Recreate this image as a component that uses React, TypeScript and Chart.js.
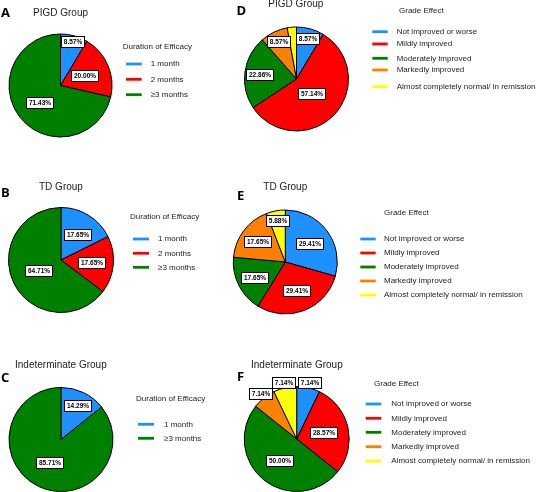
import React, { useEffect, useRef } from "react";
import { Chart, registerables } from "chart.js";

Chart.register(...registerables);

// ---------- categories ----------
const DURATION_CATS_3 = ["1 month", "2 months", "≥3 months"];
const DURATION_CATS_2 = ["1 month", "≥3 months"];
const GRADE_CATS = [
  "Not improved or worse",
  "Mildly improved",
  "Moderately improved",
  "Markedly improved",
  "Almost completely normal/ in remission",
];

// ---------- series values (%) ----------
const PIGD_DURATION = [8.57, 20.0, 71.43];
const TD_DURATION = [17.65, 17.65, 64.71];
const INDET_DURATION = [14.29, 85.71];
const PIGD_GRADE = [8.57, 57.14, 22.86, 8.57, 2.86];
const TD_GRADE = [29.41, 29.41, 17.65, 17.65, 5.88];
const INDET_GRADE = [7.14, 28.57, 50.0, 7.14, 7.14];

// ---------- colours ----------
const BLUE = "#1E90FF";
const RED = "#FF0000";
const GREEN = "#008000";
const ORANGE = "#FF8000";
const YELLOW = "#FFFF00";

const FONT = "'Liberation Sans', Arial, Helvetica, sans-serif";

type Panel = {
  key: string;
  region: { x: number; y: number; w: number; h: number };
  pie: { cx: number; cy: number; r: number };
  letter: { x: number; y: number };
  title: { text: string; x: number; y: number };
  legend: { title: string; tx: number; ty: number; sx: number; sw: number; textX: number; ys: number[] };
  cats: string[];
  values: number[];
  colors: string[];
  radius: { small: number; mid: number; large: number };
};

const PANELS: Panel[] = [
  {
    key: "A",
    region: { x: 0, y: 0, w: 230, h: 160 },
    pie: { cx: 60.5, cy: 85.5, r: 51.5 },
    letter: { x: 1, y: 13 },
    title: { text: "PIGD Group", x: 33, y: 13.3 },
    legend: { title: "Duration of Efficacy", tx: 122.7, ty: 46.7, sx: 126, sw: 15.7, textX: 150.7, ys: [64, 79.3, 94.7] },
    cats: DURATION_CATS_3,
    values: PIGD_DURATION,
    colors: [BLUE, RED, GREEN],
    radius: { small: 0.88, mid: 0.5, large: 0.52 },
  },
  {
    key: "B",
    region: { x: 0, y: 160, w: 230, h: 170 },
    pie: { cx: 61, cy: 260, r: 52.5 },
    letter: { x: 1, y: 193 },
    title: { text: "TD Group", x: 39, y: 187 },
    legend: { title: "Duration of Efficacy", tx: 130, ty: 216.7, sx: 133, sw: 16, textX: 158, ys: [239, 253.3, 267.3] },
    cats: DURATION_CATS_3,
    values: TD_DURATION,
    colors: [BLUE, RED, GREEN],
    radius: { small: 0.8, mid: 0.58, large: 0.47 },
  },
  {
    key: "C",
    region: { x: 0, y: 330, w: 230, h: 162 },
    pie: { cx: 61, cy: 439.5, r: 52 },
    letter: { x: 1, y: 378.5 },
    title: { text: "Indeterminate Group", x: 15, y: 365 },
    legend: { title: "Duration of Efficacy", tx: 136, ty: 398.3, sx: 138, sw: 16, textX: 164, ys: [424.3, 438.3] },
    cats: DURATION_CATS_2,
    values: INDET_DURATION,
    colors: [BLUE, GREEN],
    radius: { small: 0.72, mid: 0.72, large: 0.5 },
  },
  {
    key: "D",
    region: { x: 230, y: 0, w: 306, h: 160 },
    pie: { cx: 296.5, cy: 79, r: 52 },
    letter: { x: 236.5, y: 11 },
    title: { text: "PIGD Group", x: 268.3, y: 4.5 },
    legend: { title: "Grade Effect", tx: 399, ty: 11, sx: 372.3, sw: 15.4, textX: 396.7, ys: [31.7, 44, 58.3, 70, 86.7] },
    cats: GRADE_CATS,
    values: PIGD_GRADE,
    colors: [BLUE, RED, GREEN, ORANGE, YELLOW],
    radius: { small: 0.8, mid: 0.71, large: 0.4 },
  },
  {
    key: "E",
    region: { x: 230, y: 160, w: 306, h: 170 },
    pie: { cx: 285.3, cy: 262, r: 52 },
    letter: { x: 237, y: 196.7 },
    title: { text: "TD Group", x: 263.3, y: 187 },
    legend: { title: "Grade Effect", tx: 384, ty: 212.3, sx: 360.3, sw: 15.4, textX: 384, ys: [239, 253, 267, 281, 295] },
    cats: GRADE_CATS,
    values: TD_GRADE,
    colors: [BLUE, RED, GREEN, ORANGE, YELLOW],
    radius: { small: 0.82, mid: 0.66, large: 0.59 },
  },
  {
    key: "F",
    region: { x: 230, y: 330, w: 306, h: 162 },
    pie: { cx: 296.7, cy: 439, r: 52.5 },
    letter: { x: 237, y: 377 },
    title: { text: "Indeterminate Group", x: 251, y: 365 },
    legend: { title: "Grade Effect", tx: 374, ty: 384, sx: 365.7, sw: 15.6, textX: 391.3, ys: [404, 418.3, 432.3, 446.7, 461] },
    cats: GRADE_CATS,
    values: INDET_GRADE,
    colors: [BLUE, RED, GREEN, ORANGE, YELLOW],
    radius: { small: 1.1, mid: 0.6, large: 0.53 },
  },
];

function makeDecorPlugin(p: Panel) {
  return {
    id: "panelDecor" + p.key,
    afterDraw(chart: any) {
      const ctx: CanvasRenderingContext2D = chart.ctx;
      const ox = p.region.x;
      const oy = p.region.y;
      ctx.save();
      ctx.textBaseline = "middle";
      ctx.textAlign = "left";

      // panel letter
      ctx.fillStyle = "#000";
      ctx.font = "bold 13px 'Open Sans', " + FONT;
      ctx.fillText(p.key, p.letter.x - ox, p.letter.y - oy);

      // title
      ctx.fillStyle = "#222";
      ctx.font = "10px " + FONT;
      ctx.fillText(p.title.text, p.title.x - ox, p.title.y - oy);

      // legend
      ctx.font = "8px " + FONT;
      ctx.fillStyle = "#222";
      ctx.fillText(p.legend.title, p.legend.tx - ox, p.legend.ty - oy);
      p.cats.forEach((c, i) => {
        const y = p.legend.ys[i] - oy;
        ctx.fillStyle = p.colors[i];
        ctx.fillRect(p.legend.sx - ox, y - 1.4, p.legend.sw, 2.8);
        ctx.fillStyle = "#222";
        ctx.fillText(c, p.legend.textX - ox, y);
      });

      // value labels
      const meta = chart.getDatasetMeta(0);
      const data = chart.data.datasets[0].data as number[];
      meta.data.forEach((arc: any, i: number) => {
        const v = data[i];
        if (v < 3) return;
        const { startAngle, endAngle, x, y, outerRadius } = arc.getProps(
          ["startAngle", "endAngle", "x", "y", "outerRadius"],
          true
        );
        const m = (startAngle + endAngle) / 2;
        const f = v < 10 ? p.radius.small : v < 25 ? p.radius.mid : p.radius.large;
        const lx = x + Math.cos(m) * outerRadius * f;
        const ly = y + Math.sin(m) * outerRadius * f;
        const text = v.toFixed(2) + "%";
        ctx.font = "bold 6.5px " + FONT;
        const tw = ctx.measureText(text).width;
        const bw = Math.round(tw + 5);
        const bh = 11;
        const bx = Math.round(lx - bw / 2) + 0.5;
        const by = Math.round(ly - bh / 2) + 0.5;
        ctx.fillStyle = "#fff";
        ctx.fillRect(bx, by, bw, bh);
        ctx.strokeStyle = "#000";
        ctx.lineWidth = 1;
        ctx.strokeRect(bx, by, bw, bh);
        ctx.fillStyle = "#000";
        ctx.textAlign = "center";
        ctx.fillText(text, bx + bw / 2, by + bh / 2 + 0.5);
        ctx.textAlign = "left";
      });
      ctx.restore();
    },
  };
}

function PiePanel({ p }: { p: Panel }) {
  const ref = useRef<HTMLCanvasElement | null>(null);
  useEffect(() => {
    if (!ref.current) return;
    const size = 2 * p.pie.r + 1;
    const left = p.pie.cx - p.pie.r - 0.5 - p.region.x;
    const top = p.pie.cy - p.pie.r - 0.5 - p.region.y;
    const chart = new Chart(ref.current, {
      type: "pie",
      data: {
        labels: p.cats,
        datasets: [
          {
            data: p.values,
            backgroundColor: p.colors,
            borderColor: "#000",
            borderWidth: 1,
            hoverOffset: 0,
            offset: 0,
          } as any,
        ],
      },
      options: {
        responsive: false,
        maintainAspectRatio: false,
        animation: false,
        events: [],
        layout: {
          padding: {
            left,
            top,
            right: p.region.w - left - size,
            bottom: p.region.h - top - size,
          },
        },
        plugins: {
          legend: { display: false },
          tooltip: { enabled: false },
          title: { display: false },
        },
      },
      plugins: [makeDecorPlugin(p)],
    });
    return () => chart.destroy();
  }, [p]);
  return (
    <div
      style={{
        position: "absolute",
        left: p.region.x,
        top: p.region.y,
        width: p.region.w,
        height: p.region.h,
      }}
    >
      <canvas ref={ref} width={p.region.w} height={p.region.h} />
    </div>
  );
}

export default function App() {
  return (
    <div
      style={{
        position: "absolute",
        left: 0,
        top: 0,
        width: 536,
        height: 492,
        background: "#fff",
        overflow: "hidden",
      }}
    >
      {PANELS.map((p) => (
        <PiePanel key={p.key} p={p} />
      ))}
    </div>
  );
}
